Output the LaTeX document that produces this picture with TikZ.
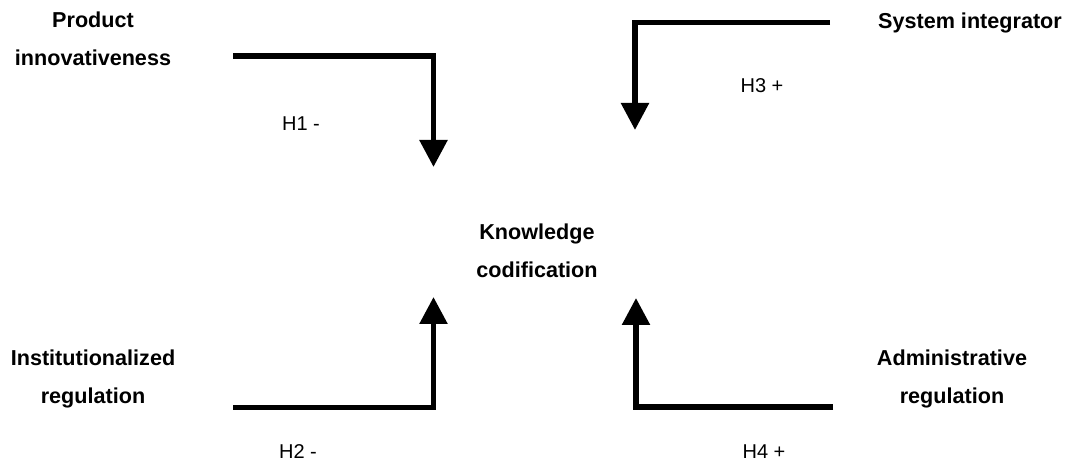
\documentclass[tikz,border=0pt]{standalone}
\usepackage{fontspec}
\setmainfont{Liberation Sans}
\usetikzlibrary{arrows.meta}
\tikzset{
  var/.style={font=\fontsize{21.6}{37.5}\selectfont\bfseries, align=center, inner sep=0pt, anchor=north},
  hyp/.style={font=\fontsize{20}{22}\selectfont, inner sep=0pt},
  conn/.style={line width=5.5pt, line join=miter, -{Triangle[width=27pt,length=27pt]}}
}
\begin{document}
\begin{tikzpicture}[x=1pt,y=1pt]
\useasboundingbox (0,0) rectangle (1069,463);
% variable labels
\node[var] (prod) at (93,451) {Product\\innovativeness};
\node[var] (sys) at (970,450) {System integrator};
\node[var] (know) at (537,239) {Knowledge\\codification};
\node[var] (inst) at (93,113) {Institutionalized\\regulation};
\node[var] (adm) at (952,113) {Administrative\\regulation};
% hypothesis labels
\node[hyp] (h1) at (301,339) {H1 -};
\node[hyp] (h3) at (762,377) {H3 +};
\node[hyp] (h2) at (298,11) {H2 -};
\node[hyp] (h4) at (764,11) {H4 +};
% connector end points
\coordinate (a1s) at (233,407);
\coordinate (a1e) at (433.5,296);
\coordinate (a3s) at (830,440.5);
\coordinate (a3e) at (635,333);
\coordinate (a2s) at (233,55.5);
\coordinate (a2e) at (433.5,166);
\coordinate (a4s) at (833,56);
\coordinate (a4e) at (636,165);
% connectors
\draw[conn] (a1s) -| (a1e);
\draw[conn] (a3s) -| (a3e);
\draw[conn] (a2s) -| (a2e);
\draw[conn] (a4s) -| (a4e);
\end{tikzpicture}
\end{document}
